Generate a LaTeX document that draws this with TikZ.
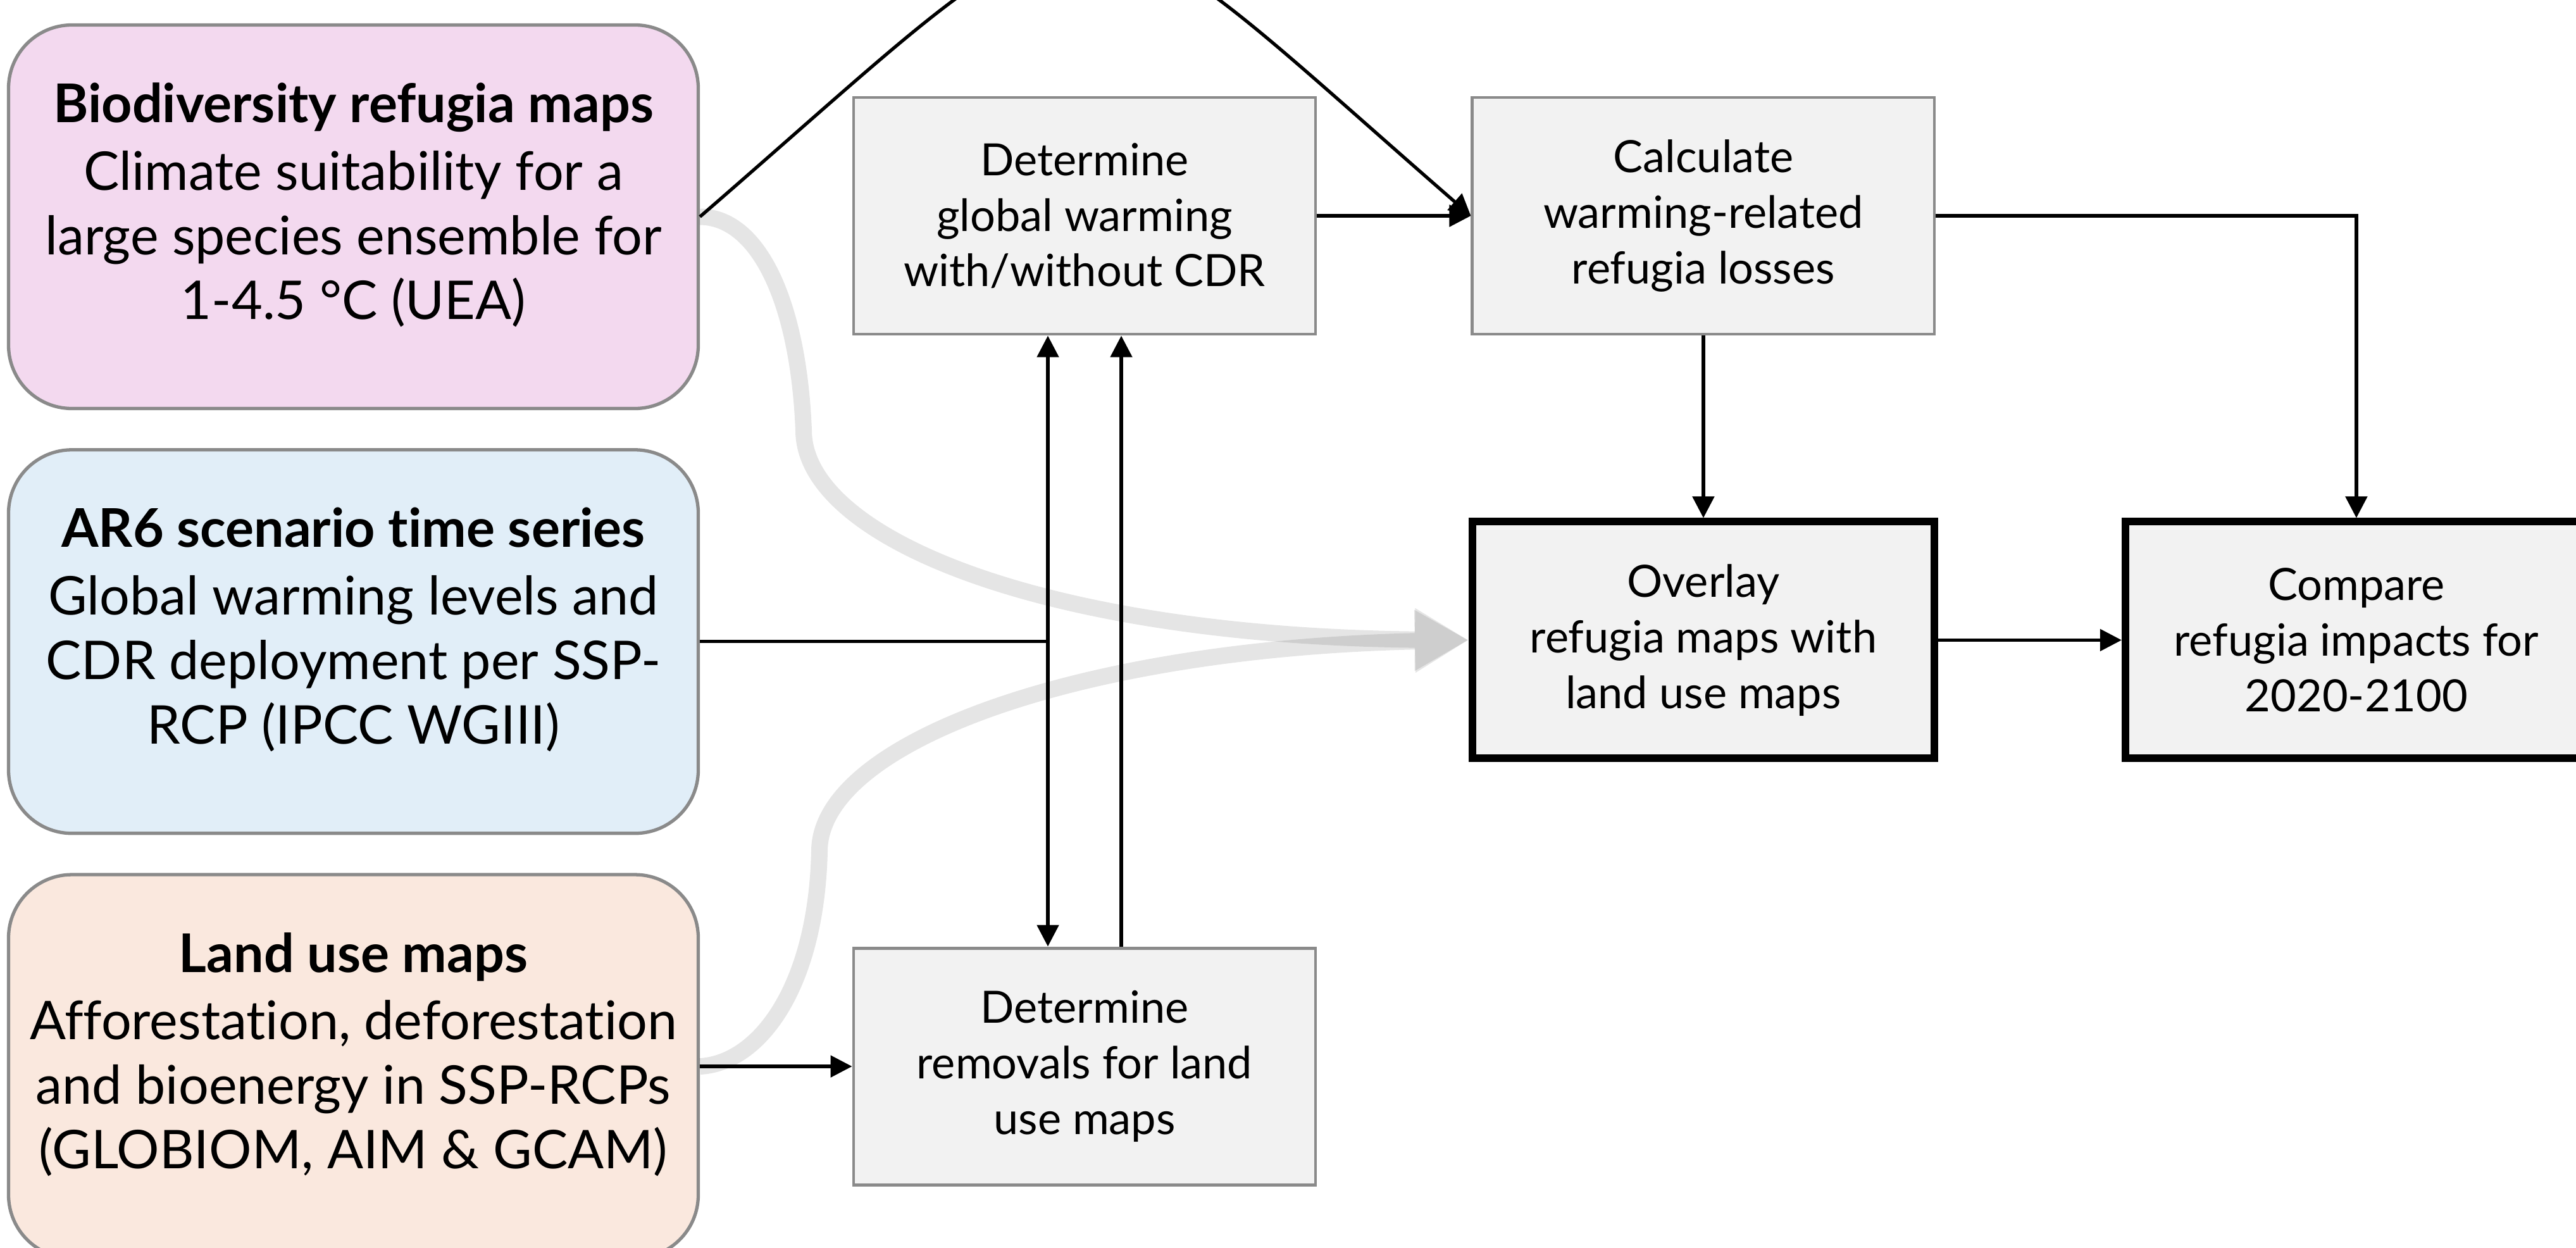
\documentclass[tikz,border=0pt]{standalone}
\usepackage{fontspec}
\setmainfont{Lato}[Ligatures=NoCommon]
\usepackage{xcolor}
\definecolor{pink100}{HTML}{F3D9EF}
\definecolor{sky100}{HTML}{E1EEF8}
\definecolor{peach100}{HTML}{FAE8DE}
\definecolor{gray100}{HTML}{F2F2F2}
\definecolor{gray500}{HTML}{8A8A8A}
\usepackage{tikz}
\usetikzlibrary{arrows.meta, positioning}

\begin{document}
\begin{tikzpicture}[
        >={Triangle[length=3.4mm, width=3.4mm]},
        source/.style={draw=gray500, line width=1.5pt, rounded corners=1cm, minimum width=10.9cm, minimum height=6.06cm, align=center, text depth=0.5cm, font=\fontsize{24}{29}\selectfont},
        task/.style={draw=gray500, line width=1.4pt, fill=gray100, minimum width=7.3cm, minimum height=3.74cm, align=center, font=\fontsize{20}{25}\selectfont},
        keytask/.style={task, draw=black, line width=3.4pt},
        link/.style={->, line width=1.5pt},
        twoway/.style={<->, line width=1.5pt},
        wire/.style={line width=1.5pt},
        flow/.style={-{Triangle[length=8.5mm, width=9.3mm]}, line width=2.6mm, draw=black}
    ]
        \useasboundingbox (0,0) rectangle (40.71,-19.72);

        % Input data
        \node[source, fill=pink100] (refugia) at (5.585,-3.425) {\textbf{Biodiversity refugia maps}\\[0.05cm]Climate suitability for a\\large species ensemble for\\1-4.5 °C (UEA)};
        \node[source, fill=sky100, below=0.6cm of refugia] (ar6) {\textbf{AR6 scenario time series}\\[0.05cm]Global warming levels and\\CDR deployment per SSP-\\RCP (IPCC WGIII)};
        \node[source, fill=peach100, below=0.6cm of ar6] (landuse) {\textbf{Land use maps}\\[0.05cm]Afforestation, deforestation\\and bioenergy in SSP-RCPs\\(GLOBIOM, AIM \& GCAM)};

        % Processing steps
        \node[task] (warming) at (17.14,-3.41) {Determine\\global warming\\with/without CDR};
        \node[task, right=2.43cm of warming] (losses) {Calculate\\warming-related\\refugia losses};
        \node[keytask, below=2.88cm of losses] (overlay) {Overlay\\refugia maps with\\land use maps};
        \node[keytask, right=2.9cm of overlay] (compare) {Compare\\refugia impacts for\\2020-2100};
        \node[task] (removals) at (warming |- landuse) {Determine\\removals for land\\use maps};

        % Map flows into the overlay
        \begin{scope}[transparency group, opacity=0.1]
            \draw[flow] (refugia.east) .. controls (12.0,-3.43) and (12.62,-4.8) .. (12.70,-6.8) .. controls (12.70,-8.5) and (16.5,-10.05) .. (overlay.west);
        \end{scope}
        \begin{scope}[transparency group, opacity=0.1]
            \draw[flow] (landuse.east) .. controls (12.0,-16.8) and (12.90,-15.6) .. (12.95,-13.45) .. controls (12.95,-11.75) and (17.0,-10.25) .. (overlay.west);
        \end{scope}

        % Warming and removals
        \coordinate (tap) at ([xshift=-0.58cm]warming.south |- ar6.east);
        \draw[wire] (ar6.east) -- (tap);
        \draw[twoway] ([xshift=-0.58cm]warming.south) -- ([xshift=-0.58cm]removals.north);
        \draw[link] ([xshift=0.58cm]removals.north) -- ([xshift=0.58cm]warming.south);
        \draw[link] (landuse.east) -- (removals.west);
        \draw[link] (warming.east) -- (losses.west);
        \draw[link] (refugia.east) .. controls (17.72,2.34) and (16.63,2.34) .. (losses.west);

        % Refugia impacts
        \draw[link] (losses.south) -- (overlay.north);
        \draw[link] (losses.east) -| (compare.north);
        \draw[link] (overlay.east) -- (compare.west);
    \end{tikzpicture}
\end{document}
